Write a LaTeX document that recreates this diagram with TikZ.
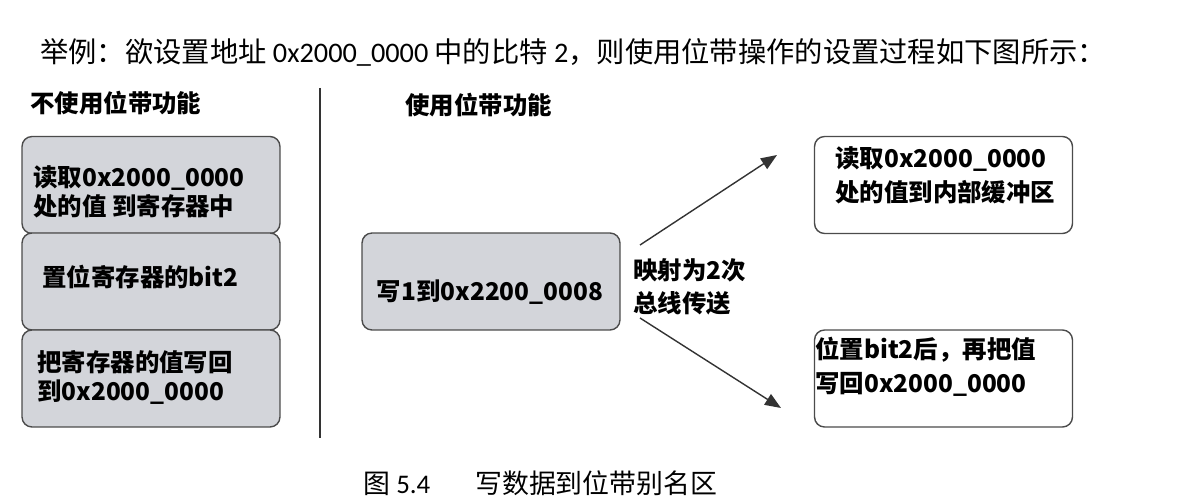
\documentclass[tikz,border=0pt]{standalone}
\usepackage{fontspec}
\newfontfamily\cjk{Noto Sans CJK SC}
\newfontfamily\calibri{Carlito}
\definecolor{boxgray}{RGB}{211,213,218}
\definecolor{edgegray}{RGB}{75,75,75}
\usetikzlibrary{arrows.meta,positioning}

\begin{document}
\begin{tikzpicture}[x=0.02cm, y=-0.02cm,
    stepbox/.style={rectangle, rounded corners=0.2cm, fill=boxgray, draw=edgegray,
                    line width=0.8pt, minimum width=5.16cm, minimum height=1.94cm, inner sep=0pt},
    resultbox/.style={stepbox, fill=white},
    boxtext/.style={anchor=west, align=left, inner sep=0pt,
                    font=\cjk\bfseries\fontsize{13.9}{16.5}\selectfont},
    widetext/.style={boxtext, font=\cjk\bfseries\fontsize{13.9}{19.3}\selectfont},
    headtext/.style={anchor=west, inner sep=0pt, font=\cjk\fontsize{16.1}{18}\selectfont},
    arrowline/.style={-{Triangle[length=0.32cm, width=0.25cm]}, line width=0.8pt, black!80}
  ]
    \useasboundingbox (0,0) rectangle (1203,503);

    % Title line
    \node[headtext] (title) at (40,52)
      {举例：欲设置地址 {\calibri 0x2000\_0000} 中的比特 {\calibri 2}，则使用位带操作的设置过程如下图所示：};

    % Without bit-band
    \node[boxtext] (headl) at (30,103) {不使用位带功能};
    \node[stepbox] (s1) at (151,185) {};
    \node[stepbox] (s2) at (151,281.5) {};
    \node[stepbox] (s3) at (151,378.5) {};
    \node[boxtext] (t1) at (33,191.5) {读取0x2000\_0000\\处的值 到寄存器中};
    \node[boxtext] (t2) at (42,277) {置位寄存器的bit2};
    \node[boxtext] (t3) at (37,377.5) {把寄存器的值写回\\到0x2000\_0000};

    % Separator
    \draw[line width=0.8pt, black!80] (320,88) -- (320,438);

    % With bit-band
    \node[boxtext] (headr) at (405,105) {使用位带功能};
    \node[stepbox] (alias) at (491,281.5) {};
    \node[boxtext, anchor=center] (ta) at (490,292) {写1到0x2200\_0008};
    \node[widetext, font=\cjk\bfseries\fontsize{13.9}{18.7}\selectfont] (map) at (633,286.5)
      {映射为2次\\总线传送};

    % Bus transfers
    \node[resultbox] (r1) at (943.5,185) {};
    \node[resultbox] (r2) at (943.5,378.5) {};
    \node[widetext] (tr1) at (835,175) {读取0x2000\_0000\\处的值到内部缓冲区};
    \node[widetext] (tr2) at (815,366.5) {位置bit2后，再把值\\写回0x2000\_0000};

    \coordinate (up0) at (640,245);
    \coordinate (up1) at (777,155);
    \coordinate (dn0) at (640,318);
    \coordinate (dn1) at (781,408);
    \draw[arrowline] (up0) -- (up1);
    \draw[arrowline] (dn0) -- (dn1);

    % Caption
    \node[headtext, font=\cjk\fontsize{15.3}{18}\selectfont] (cap) at (363,483)
      {图 {\calibri 5.4}\hspace{0.9cm}写数据到位带别名区};
  \end{tikzpicture}
\end{document}
